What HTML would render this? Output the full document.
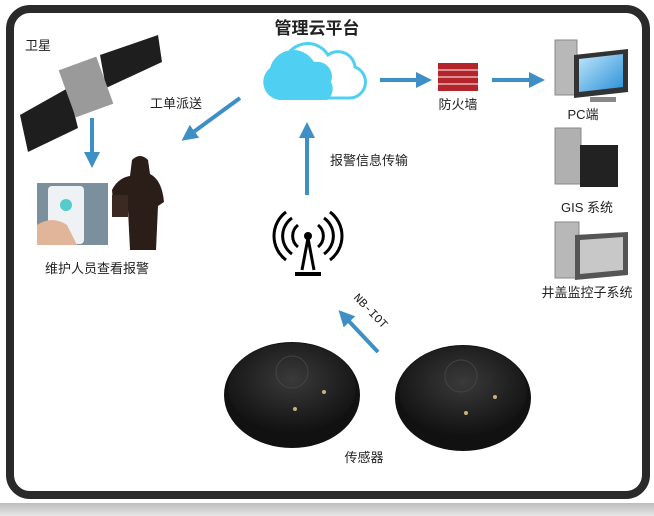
<!DOCTYPE html>
<html><head><meta charset="utf-8"><style>
html,body{margin:0;padding:0;background:#fff;}
svg{display:block;font-family:"Liberation Sans","Noto Sans CJK SC",sans-serif;}
</style></head><body>
<svg width="654" height="516" viewBox="0 0 654 516">
<defs>
<marker id="ah" markerWidth="4" markerHeight="4" refX="2" refY="2" orient="auto" markerUnits="strokeWidth"><path d="M0,0 L4,2 L0,4 z" fill="#3d8fc6"/></marker>
<radialGradient id="sg" cx="0.5" cy="0.4" r="0.6"><stop offset="0" stop-color="#3a3a3a"/><stop offset="1" stop-color="#111"/></radialGradient>
<linearGradient id="scr" x1="0" y1="0" x2="1" y2="1"><stop offset="0" stop-color="#bfe6fb"/><stop offset="1" stop-color="#2a90d8"/></linearGradient>
<linearGradient id="band" x1="0" y1="0" x2="0" y2="1"><stop offset="0" stop-color="#bdbdbd"/><stop offset="1" stop-color="#e6e6e6"/></linearGradient>
</defs>
<rect x="0" y="503" width="654" height="13" fill="url(#band)"/>
<rect x="10" y="9" width="636" height="486" rx="20" fill="#fff" stroke="#2a2a2a" stroke-width="8"/>
<text x="317" y="34" font-size="17" font-weight="bold" text-anchor="middle" fill="#222">管理云平台</text>
<g>
<path d="M290,98 a18,18 0 0 1 -6,-35 a24,24 0 0 1 44,-8 a17,17 0 0 1 27,12 a16,16 0 0 1 -5,31 z" fill="#fff" stroke="#4fd0f3" stroke-width="3"/>
<path d="M282,100 a18,18 0 0 1 -12,-32 a24,24 0 0 1 44,-6 a15,15 0 0 1 17,20 a14,14 0 0 1 -4,18 z" fill="#4fd0f3"/>
</g>
<text x="25" y="50" font-size="13" fill="#222">卫星</text>
<polygon points="20,115 68,88 78,128 28,152" fill="#1e1e1e"/>
<polygon points="100,55 158,35 162,62 106,88" fill="#1e1e1e"/>
<rect x="66" y="62" width="40" height="50" fill="#9a9a9a" transform="rotate(-20 86 87)"/>
<line x1="92" y1="118" x2="92" y2="160" stroke="#3d8fc6" stroke-width="4" marker-end="url(#ah)"/>
<rect x="37" y="183" width="71" height="62" fill="#7b8f9c"/>
<rect x="48" y="186" width="36" height="58" rx="4" fill="#eef2f4"/>
<circle cx="66" cy="205" r="6" fill="#5cc"/>
<path d="M37,225 q15,-10 30,0 l10,20 h-40 z" fill="#e0b59a"/>
<path d="M132,160 q8,-8 16,0 l2,14 q12,6 14,28 l-6,4 l-2,44 h-26 l-2,-40 l-14,4 l-2,-24 q6,-12 18,-14 z" fill="#2b1d17"/>
<rect x="112" y="195" width="16" height="22" fill="#3a2a22"/>
<text x="97" y="273" font-size="13" text-anchor="middle" fill="#222">维护人员查看报警</text>
<text x="150" y="108" font-size="13" fill="#222">工单派送</text>
<line x1="240" y1="98" x2="188" y2="136" stroke="#3d8fc6" stroke-width="4" marker-end="url(#ah)"/>
<line x1="307" y1="195" x2="307" y2="130" stroke="#3d8fc6" stroke-width="4" marker-end="url(#ah)"/>
<text x="330" y="165" font-size="13" fill="#222">报警信息传输</text>
<g fill="none" stroke="#000" stroke-width="3">
<path d="M298,225 a14,14 0 0 0 0,22"/><path d="M318,225 a14,14 0 0 1 0,22"/>
<path d="M292,218 a22,22 0 0 0 0,36"/><path d="M324,218 a22,22 0 0 1 0,36"/>
<path d="M286,212 a30,30 0 0 0 0,48"/><path d="M330,212 a30,30 0 0 1 0,48"/>
<path d="M302,270 l6,-32 l6,32"/>
</g>
<circle cx="308" cy="236" r="4" fill="#000"/>
<rect x="295" y="272" width="26" height="4" fill="#000"/>
<line x1="380" y1="80" x2="424" y2="80" stroke="#3d8fc6" stroke-width="4" marker-end="url(#ah)"/>
<rect x="438" y="63" width="40" height="28" fill="#b3242b"/>
<g stroke="#f0d0d0" stroke-width="1.2"><line x1="438" y1="70" x2="478" y2="70"/><line x1="438" y1="77" x2="478" y2="77"/><line x1="438" y1="84" x2="478" y2="84"/></g>
<text x="458" y="109" font-size="13" text-anchor="middle" fill="#222">防火墙</text>
<line x1="492" y1="80" x2="537" y2="80" stroke="#3d8fc6" stroke-width="4" marker-end="url(#ah)"/>
<g>
<rect x="555" y="40" width="22" height="55" fill="#b8b8b8" stroke="#888"/>
<polygon points="574,55 628,49 628,92 574,98" fill="#333"/>
<polygon points="579,59 623,54 623,87 579,92" fill="url(#scr)"/>
<rect x="590" y="97" width="26" height="5" fill="#888"/>
</g>
<text x="583" y="119" font-size="13" text-anchor="middle" fill="#222">PC端</text>
<g>
<rect x="555" y="128" width="26" height="56" fill="#b0b0b0" stroke="#888"/>
<rect x="580" y="145" width="38" height="42" fill="#222"/>
</g>
<text x="587" y="212" font-size="13" text-anchor="middle" fill="#222">GIS 系统</text>
<g>
<rect x="555" y="222" width="24" height="56" fill="#b8b8b8" stroke="#888"/>
<polygon points="575,235 628,232 628,275 575,280" fill="#555"/>
<polygon points="580,240 623,237 623,270 580,274" fill="#c8c8c8"/>
</g>
<text x="587" y="297" font-size="13" text-anchor="middle" fill="#222">井盖监控子系统</text>
<line x1="378" y1="352" x2="344" y2="316" stroke="#3d8fc6" stroke-width="4" marker-end="url(#ah)"/>
<text x="0" y="0" font-size="12" fill="#222" font-family="Liberation Mono, monospace" transform="translate(353,298) rotate(46)">NB-IOT</text>
<ellipse cx="292" cy="395" rx="68" ry="53" fill="#111"/>
<ellipse cx="292" cy="388" rx="64" ry="45" fill="url(#sg)"/>
<circle cx="292" cy="372" r="16" fill="none" stroke="#444"/>
<circle cx="324" cy="392" r="2" fill="#c9b27a"/><circle cx="295" cy="409" r="2" fill="#c9b27a"/>
<ellipse cx="463" cy="398" rx="68" ry="53" fill="#111"/>
<ellipse cx="463" cy="391" rx="64" ry="45" fill="url(#sg)"/>
<circle cx="461" cy="376" r="16" fill="none" stroke="#444"/>
<circle cx="495" cy="397" r="2" fill="#c9b27a"/><circle cx="466" cy="413" r="2" fill="#c9b27a"/>
<text x="364" y="462" font-size="13" text-anchor="middle" fill="#222">传感器</text>
</svg>
</body></html>
